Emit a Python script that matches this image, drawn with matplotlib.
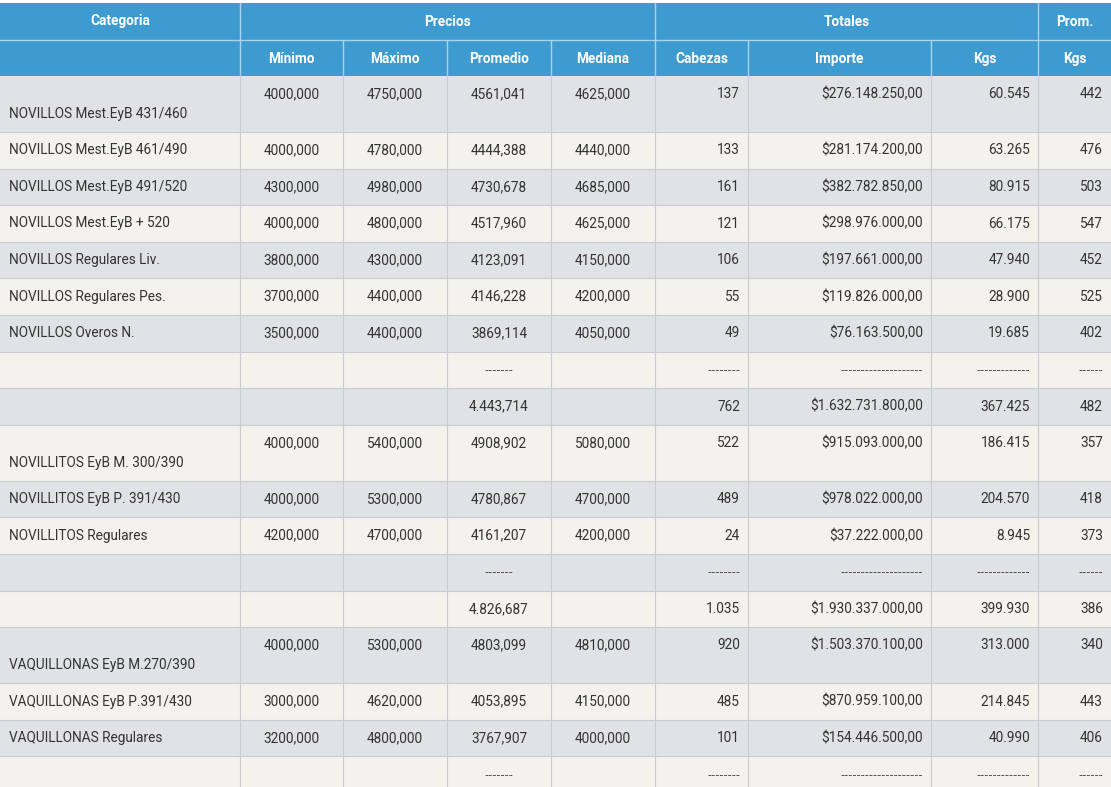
import matplotlib
matplotlib.use("Agg")
import matplotlib.pyplot as plt
from matplotlib.patches import Rectangle

plt.rcParams['font.family'] = ['Roboto', 'DejaVu Sans']

col_edges = [0, 240, 343, 447, 551, 655, 748, 931, 1038, 1111]
top_groups = [("Categoria", 0, 1), ("Precios", 1, 5), ("Totales", 5, 8), ("Prom.", 8, 9)]
sub_headers = ["", "Mínimo", "Máximo", "Promedio", "Mediana", "Cabezas", "Importe", "Kgs", "Kgs"]

categories = ["NOVILLOS Mest.EyB 431/460", "NOVILLOS Mest.EyB 461/490", "NOVILLOS Mest.EyB 491/520",
              "NOVILLOS Mest.EyB + 520", "NOVILLOS Regulares Liv.", "NOVILLOS Regulares Pes.",
              "NOVILLOS Overos N.", "", "",
              "NOVILLITOS EyB M. 300/390", "NOVILLITOS EyB P. 391/430", "NOVILLITOS Regulares", "", "",
              "VAQUILLONAS EyB M.270/390", "VAQUILLONAS EyB P.391/430", "VAQUILLONAS Regulares", ""]
minimo = ["4000,000", "4000,000", "4300,000", "4000,000", "3800,000", "3700,000", "3500,000", "", "",
          "4000,000", "4000,000", "4200,000", "", "", "4000,000", "3000,000", "3200,000", ""]
maximo = ["4750,000", "4780,000", "4980,000", "4800,000", "4300,000", "4400,000", "4400,000", "", "",
          "5400,000", "5300,000", "4700,000", "", "", "5300,000", "4620,000", "4800,000", ""]
promedio = ["4561,041", "4444,388", "4730,678", "4517,960", "4123,091", "4146,228", "3869,114", "-------", "4.443,714",
            "4908,902", "4780,867", "4161,207", "-------", "4.826,687", "4803,099", "4053,895", "3767,907", "-------"]
mediana = ["4625,000", "4440,000", "4685,000", "4625,000", "4150,000", "4200,000", "4050,000", "", "",
           "5080,000", "4700,000", "4200,000", "", "", "4810,000", "4150,000", "4000,000", ""]
D8 = "--------"
cabezas = ["137", "133", "161", "121", "106", "55", "49", D8, "762",
           "522", "489", "24", D8, "1.035", "920", "485", "101", D8]
DI = "--------------------"
importe = ["$276.148.250,00", "$281.174.200,00", "$382.782.850,00", "$298.976.000,00", "$197.661.000,00",
           "$119.826.000,00", "$76.163.500,00", DI, "$1.632.731.800,00",
           "$915.093.000,00", "$978.022.000,00", "$37.222.000,00", DI, "$1.930.337.000,00",
           "$1.503.370.100,00", "$870.959.100,00", "$154.446.500,00", DI]
DK = "-------------"
kgs = ["60.545", "63.265", "80.915", "66.175", "47.940", "28.900", "19.685", DK, "367.425",
       "186.415", "204.570", "8.945", DK, "399.930",
       "313.000", "214.845", "40.990", DK]
prom_kgs = ["442", "476", "503", "547", "452", "525", "402", "------", "482",
            "357", "418", "373", "------", "386", "340", "443", "406", "------"]

tall = {0, 9, 14}
W, H = 1111, 787
fig = plt.figure(figsize=(W/100, H/100), dpi=100)
ax = fig.add_axes([0, 0, 1, 1])
ax.set_xlim(0, W); ax.set_ylim(H, 0); ax.axis('off')

blue = "#3d9bd0"
gray = "#dfe3e6"
cream = "#f3f2ec"
line = "#c9cdd0"
fs = 9.8
tc = "#333333"

y0, y1, y2 = 3, 40, 76
ax.add_patch(Rectangle((0, y0), W, y2 - y0, color=blue, lw=0))
for name, a, b in top_groups:
    xa, xb = col_edges[a], col_edges[b]
    ax.text((xa + xb) / 2, (y0 + y1) / 2, name, color="white", fontsize=fs, fontweight="bold", ha="center", va="center")
for i, s in enumerate(sub_headers):
    xa, xb = col_edges[i], col_edges[i + 1]
    ax.text((xa + xb) / 2, (y1 + y2) / 2 + 1, s, color="white", fontsize=fs, fontweight="bold", ha="center", va="center")
ax.plot([0, W], [y1, y1], color="#a9d3ec", lw=1)
for xe in col_edges[1:-1]:
    if xe in (240, 655, 1038):
        ax.plot([xe, xe], [y0, y2], color="#a9d3ec", lw=1)
    else:
        ax.plot([xe, xe], [y1, y2], color="#a9d3ec", lw=1)

y = y2
cols = [minimo, maximo, promedio, mediana, cabezas, importe, kgs, prom_kgs]
for r in range(len(categories)):
    h = 56 if r in tall else 36.6
    color = gray if r % 2 == 0 else cream
    ax.add_patch(Rectangle((0, y), W, h, color=color, lw=0))
    ax.plot([0, W], [y + h, y + h], color=line, lw=0.8)
    ny = y + 18 if r in tall else y + h / 2
    cy = y + 38 if r in tall else y + h / 2
    ax.text(9, cy, categories[r], color=tc, fontsize=fs, ha="left", va="center")
    for c, arr in enumerate(cols):
        xa, xb = col_edges[c + 1], col_edges[c + 2]
        txt = arr[r]
        kw = dict(color=tc, fontsize=fs, va="center")
        if txt.startswith("-"):
            kw["family"] = "DejaVu Sans"
            kw["fontsize"] = 8.2
        if c < 4:
            ax.text((xa + xb) / 2, ny, txt, ha="center", **kw)
        else:
            ax.text(xb - 8, ny, txt, ha="right", **kw)
    y += h
for xe in col_edges[1:-1]:
    ax.plot([xe, xe], [y2, H], color=line, lw=0.8)

fig.savefig("out.png", dpi=100)
